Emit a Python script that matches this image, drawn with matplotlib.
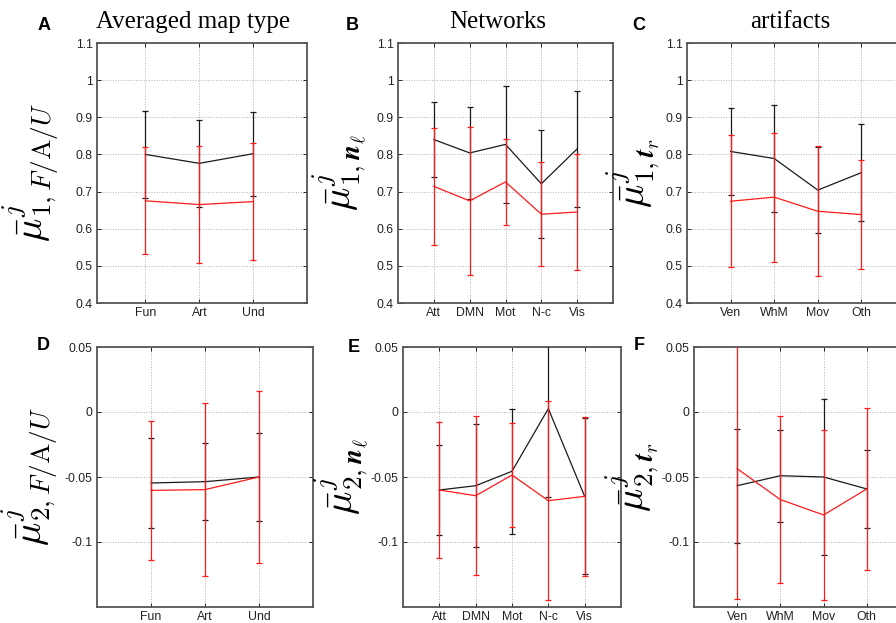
import numpy as np
import matplotlib
matplotlib.use("Agg")
import matplotlib.pyplot as plt
from matplotlib.ticker import FuncFormatter

plt.rcParams['font.family'] = ['Liberation Sans', 'DejaVu Sans']
plt.rcParams['mathtext.fontset'] = 'cm'

# categories
maptype = ["Fun", "Art", "Und"]
networks = ["Att", "DMN", "Mot", "N-c", "Vis"]
artifacts = ["Ven", "WhM", "Mov", "Oth"]

# mu1 (top row): mean and half-width of error bars, black / red series
A_black = [0.800, 0.776, 0.802]
A_black_err = [0.116, 0.118, 0.113]
A_red = [0.675, 0.665, 0.673]
A_red_err = [0.144, 0.158, 0.158]

B_black = [0.840, 0.804, 0.827, 0.721, 0.815]
B_black_err = [0.100, 0.125, 0.158, 0.145, 0.157]
B_red = [0.714, 0.675, 0.726, 0.639, 0.645]
B_red_err = [0.158, 0.200, 0.116, 0.140, 0.155]

C_black = [0.808, 0.789, 0.704, 0.751]
C_black_err = [0.116, 0.143, 0.116, 0.131]
C_red = [0.674, 0.685, 0.647, 0.638]
C_red_err = [0.177, 0.174, 0.175, 0.147]

# mu2 (bottom row)
D_black = [-0.0546, -0.0536, -0.0500]
D_black_err = [0.0345, 0.0298, 0.0338]
D_red = [-0.0603, -0.0597, -0.0500]
D_red_err = [0.0532, 0.0665, 0.0660]

E_black = [-0.0600, -0.0567, -0.0456, 0.0026, -0.0649]
E_black_err = [0.0343, 0.0475, 0.0482, 0.0682, 0.0600]
E_red = [-0.0600, -0.0644, -0.0485, -0.0682, -0.0649]
E_red_err = [0.0523, 0.0612, 0.0397, 0.0763, 0.0612]

F_black = [-0.0567, -0.0490, -0.0500, -0.0592]
F_black_err = [0.0440, 0.0353, 0.0597, 0.0298]
F_red = [-0.0436, -0.0674, -0.0792, -0.0592]
F_red_err = [0.1000, 0.0643, 0.0652, 0.0620]

W, H = 896, 623
fig = plt.figure(figsize=(W / 100, H / 100), dpi=100)


def px(l, r, t, b):
    return [l / W, 1 - b / H, (r - l) / W, (b - t) / H]


def panel(rect, cats, black, black_err, red, red_err, xlim, ylim, yticks,
          ylabel, label_x):
    ax = fig.add_axes(rect)
    x = np.arange(1, len(cats) + 1)
    ax.errorbar(x, black, yerr=black_err, color='#1a1a1a', lw=0.9,
                elinewidth=0.9, capsize=2, capthick=0.9, zorder=3)
    ax.errorbar(x, red, yerr=red_err, color='#ff1a1a', lw=0.9,
                elinewidth=0.9, capsize=2, capthick=0.9, zorder=4)
    ax.set_xlim(xlim)
    ax.set_ylim(ylim)
    ax.set_xticks(x)
    ax.set_xticklabels(cats)
    ax.set_yticks(yticks)
    ax.yaxis.set_major_formatter(FuncFormatter(lambda v, p: '%g' % round(v, 3)))
    ax.grid(True, linestyle=':', color='#b0b0b0', lw=0.7)
    ax.set_axisbelow(True)
    ax.tick_params(direction='in', length=3, width=0.7, labelsize=8.8,
                   top=True, right=True, colors='#222222', pad=3)
    for s in ax.spines.values():
        s.set_color('#555555')
        s.set_linewidth(1.3)
    ax.set_ylabel(ylabel, fontsize=28)
    ax.yaxis.set_label_coords(label_x, 0.5)
    return ax


top = [0.4, 0.5, 0.6, 0.7, 0.8, 0.9, 1.0, 1.1]
bot = [-0.1, -0.05, 0, 0.05]

panel(px(97, 307, 43, 303), maptype, A_black, A_black_err, A_red, A_red_err,
      (0.1, 4.0), (0.4, 1.1), top, r'$\bar{\mu}^{j}_{1,F/\mathrm{A}/U}$', -0.17)
panel(px(398, 613, 43, 303), networks, B_black, B_black_err, B_red, B_red_err,
      (0, 6), (0.4, 1.1), top, r'$\bar{\mu}^{j}_{1,\boldsymbol{n}_{\ell}}$', -0.14)
panel(px(687, 905, 43, 303), artifacts, C_black, C_black_err, C_red, C_red_err,
      (0, 5), (0.4, 1.1), top, r'$\bar{\mu}^{j}_{1,\boldsymbol{t}_{r}}$', -0.115)
panel(px(97, 313, 347, 607), maptype, D_black, D_black_err, D_red, D_red_err,
      (0, 4), (-0.15, 0.05), bot, r'$\bar{\mu}^{j}_{2,F/\mathrm{A}/U}$', -0.17)
panel(px(403, 621, 347, 607), networks, E_black, E_black_err, E_red, E_red_err,
      (0, 6), (-0.15, 0.05), bot, r'$\bar{\mu}^{j}_{2,\boldsymbol{n}_{\ell}}$', -0.15)
panel(px(694, 910, 347, 607), artifacts, F_black, F_black_err, F_red, F_red_err,
      (0, 5), (-0.15, 0.05), bot, r'$\bar{\mu}^{j}_{2,\boldsymbol{t}_{r}}$', -0.155)

# column titles
for t, xc in [("Averaged map type", 193), ("Networks", 498), ("artifacts", 790)]:
    fig.text(xc / W, 1 - 22 / H, t, family='Liberation Serif', fontsize=18,
             ha='center', va='center')

# panel letters
for lab, xp, yp in [("A", 44, 25), ("B", 352, 25), ("C", 639, 25),
                    ("D", 43, 345), ("E", 354, 347), ("F", 639, 345)]:
    fig.text(xp / W, 1 - yp / H, lab, fontsize=13, fontweight='bold',
             ha='center', va='center')

fig.savefig("out.png", dpi=100, facecolor='white')
